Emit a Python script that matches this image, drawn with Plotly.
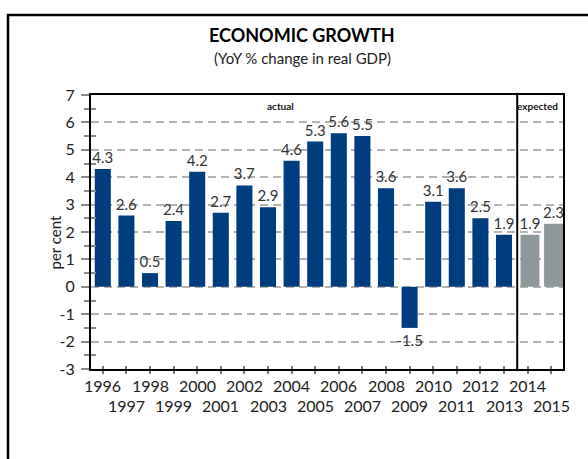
import plotly.graph_objects as go

# ---- data ----
actual_years = list(range(1996, 2014))
actual_values = [4.3, 2.6, 0.5, 2.4, 4.2, 2.7, 3.7, 2.9, 4.6, 5.3, 5.6, 5.5, 3.6, -1.5, 3.1, 3.6, 2.5, 1.9]
expected_years = [2014, 2015]
expected_values = [1.9, 2.3]
all_years = actual_years + expected_years
y_ticks = list(range(-3, 8))
y_ticktext = [str(v) for v in y_ticks]
y_minor = [v + 0.5 for v in range(-3, 7)]

TITLE = "ECONOMIC GROWTH"
SUBTITLE = "(YoY % change in real GDP)"
Y_TITLE = "per cent"
SPLIT_X = 2013.56

W, H = 588, 459
ML, MR, MT, MB = 91, 25, 95, 90
PW, PH = W - ML - MR, H - MT - MB

FONT = "Lato"
BLUE = "#003d7e"
GREY = "#8e9799"

def px_to_paper_x(px):
    return (px - ML) / PW

def px_to_paper_y(py):
    return (H - MB - py) / PH

fig = go.Figure()

fig.add_trace(go.Bar(
    x=actual_years, y=actual_values, width=0.68,
    marker=dict(color=BLUE, line=dict(width=0)),
    text=[f"{v:.1f}" for v in actual_values], textposition="outside",
    textangle=0, constraintext="none", cliponaxis=False,
    textfont=dict(family=FONT, size=15, color="#333333"),
    showlegend=False, hoverinfo="x+y",
))
fig.add_trace(go.Bar(
    x=expected_years, y=expected_values, width=0.8, offset=-0.3,
    marker=dict(color=GREY, line=dict(width=0)),
    text=[f"{v:.1f}" for v in expected_values], textposition="outside",
    textangle=0, constraintext="none", cliponaxis=False,
    textfont=dict(family=FONT, size=15, color="#333333"),
    showlegend=False, hoverinfo="x+y",
))
# helper invisible trace for overlay axes (inner tick halves)
fig.add_trace(go.Scatter(x=[None], y=[None], xaxis="x2", yaxis="y2",
                         showlegend=False, hoverinfo="skip"))

fig.update_layout(
    width=W, height=H,
    margin=dict(l=ML, r=MR, t=MT, b=MB, pad=0),
    paper_bgcolor="white", plot_bgcolor="white",
    font=dict(family=FONT, color="#222222"),
    xaxis=dict(
        range=[1995.5, 2015.5], showline=True, mirror=True, linecolor="black", linewidth=2,
        tickvals=all_years, ticks="outside", ticklen=3, tickwidth=1.5, tickcolor="#777777",
        showticklabels=False, showgrid=False, zeroline=False, fixedrange=True,
    ),
    yaxis=dict(
        range=[-3, 7], showline=True, mirror=True, linecolor="black", linewidth=2,
        tickvals=y_ticks, ticktext=y_ticktext, ticks="outside", ticklen=8, tickwidth=1.5,
        tickcolor="#888888",
        tickfont=dict(family=FONT, size=16, color="#222222"), ticklabelstandoff=3,
        showgrid=True, gridcolor="#b3b3b3", gridwidth=1.5, griddash="8px,5px",
        zeroline=False,
        minor=dict(tickvals=y_minor, ticks="outside", ticklen=5, tickwidth=1.5,
                   tickcolor="#888888", showgrid=False),
    ),
    xaxis2=dict(
        range=[1995.5, 2015.5], overlaying="x", anchor="y2", showline=False,
        tickvals=all_years, ticks="inside", ticklen=3, tickwidth=1.5, tickcolor="#777777",
        showticklabels=False, showgrid=False, zeroline=False,
    ),
    yaxis2=dict(
        range=[-3, 7], overlaying="y", anchor="x2", side="left", showline=False,
        tickvals=y_minor, ticks="inside", ticklen=5, tickwidth=1.5, tickcolor="#888888",
        showticklabels=False, showgrid=False, zeroline=False,
    ),
)

annotations = []
# x tick labels, alternating rows
row_ys = [px_to_paper_y(385), px_to_paper_y(405)]
for i, yr in enumerate(all_years):
    annotations.append(dict(x=yr, y=row_ys[i % 2], xref="x", yref="paper", text=str(yr),
                            showarrow=False, xanchor="center", yanchor="middle",
                            font=dict(family=FONT, size=16, color="#222222")))
annotations += [
    dict(x=px_to_paper_x(302), y=px_to_paper_y(35), xref="paper", yref="paper", text="<b>" + TITLE + "</b>",
         showarrow=False, xanchor="center", yanchor="middle",
         font=dict(family=FONT, size=18, color="#000000")),
    dict(x=px_to_paper_x(302), y=px_to_paper_y(58), xref="paper", yref="paper", text=SUBTITLE,
         showarrow=False, xanchor="center", yanchor="middle",
         font=dict(family=FONT, size=15, color="#222222")),
    dict(x=px_to_paper_x(54.5), y=px_to_paper_y(242), xref="paper", yref="paper", text=Y_TITLE,
         showarrow=False, xanchor="center", yanchor="middle", textangle=-90,
         font=dict(family=FONT, size=15, color="#222222")),
    dict(x=2003.55, y=6.6, xref="x", yref="y", text="<b>actual</b>", showarrow=False,
         xanchor="center", yanchor="middle", font=dict(family=FONT, size=10, color="#111111")),
    dict(x=SPLIT_X, y=6.6, xref="x", yref="y", text="<b>expected</b>", showarrow=False,
         xanchor="left", yanchor="middle", xshift=-2, font=dict(family=FONT, size=10, color="#111111")),
]
fig.update_layout(annotations=annotations)

bx = px_to_paper_x(8)
by = px_to_paper_y(15)
fig.update_layout(shapes=[
    dict(type="line", xref="x", yref="y", x0=SPLIT_X, x1=SPLIT_X, y0=-3.14, y1=7.17,
         line=dict(color="black", width=2)),
    dict(type="path", xref="paper", yref="paper",
         path=f"M {bx} {px_to_paper_y(H + 5)} L {bx} {by} L {px_to_paper_x(W + 5)} {by}",
         line=dict(color="black", width=2.5)),
])

fig.write_html("out.html")
